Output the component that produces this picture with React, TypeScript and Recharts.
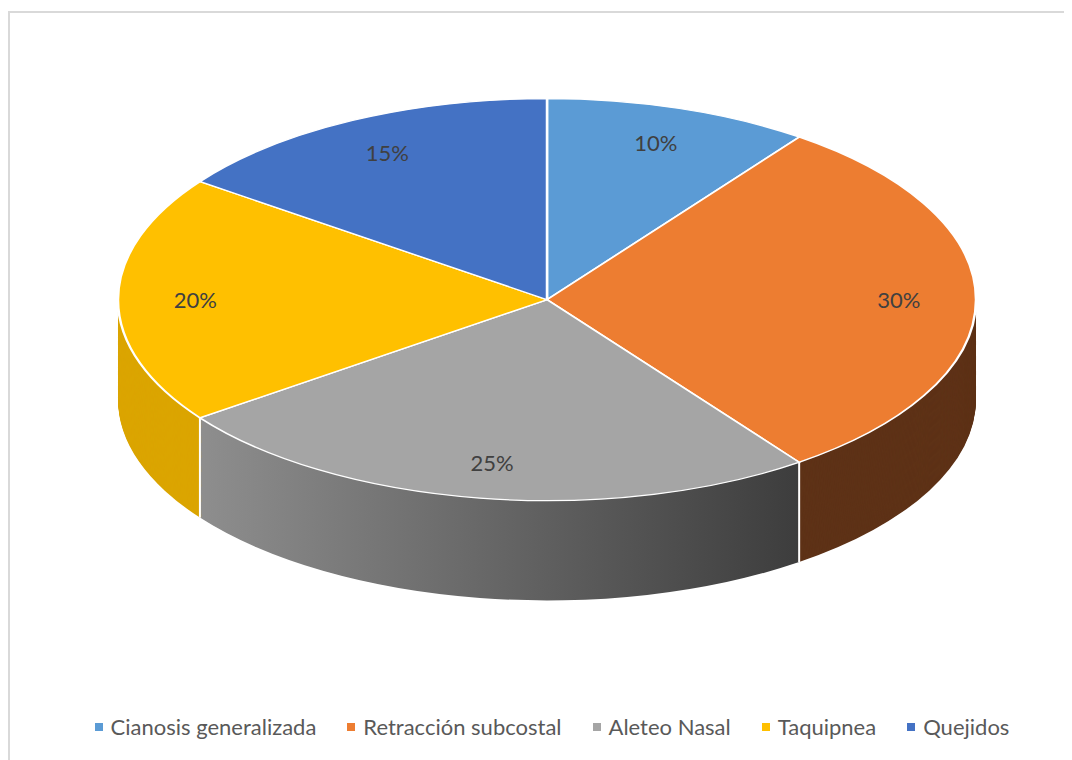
import { PieChart, Pie, Cell } from "recharts";

const categories = [
  "Cianosis generalizada",
  "Retracción subcostal",
  "Aleteo Nasal",
  "Taquipnea",
  "Quejidos",
];
const values = [10, 30, 25, 20, 15];
const topColors = ["#5B9BD5", "#ED7D31", "#A5A5A5", "#FFC000", "#4472C4"];
const sideColors = ["#3B6A96", "#5E3217", "url(#sideGray)", "#DBA500", "#2F5597"];

const data = categories.map((name, i) => ({ name, value: values[i] }));

// 3D look: circle squashed vertically, plus stacked layers for the side wall
const SCALE_Y = 0.4685;
const RADIUS = 429;
const CX = 539;
const CY = 439;
const DEPTH = 213;
const RAD = Math.PI / 180;

const layers: number[] = [];
for (let d = DEPTH; d > 0; d -= 2) layers.push(d);

function renderLabel(props: any) {
  const { cx, cy, midAngle, startAngle, outerRadius, percent, index } = props;
  const r = outerRadius * 0.82;
  const x = cx + r * Math.cos(-midAngle * RAD);
  const y = cy + r * Math.sin(-midAngle * RAD);
  const bx = cx + outerRadius * Math.cos(-startAngle * RAD);
  const by = cy + outerRadius * Math.sin(-startAngle * RAD);
  return (
    <g key={"lbl-" + index}>
      {by > cy + 1 && (
        <line
          x1={bx}
          y1={by}
          x2={bx}
          y2={by + DEPTH}
          stroke="#ffffff"
          strokeWidth={2}
          vectorEffect="non-scaling-stroke"
        />
      )}
      <text
        transform={`translate(${x},${y}) scale(1,${1 / SCALE_Y})`}
        textAnchor="middle"
        dominantBaseline="central"
        fill="#404040"
        fontSize={22}
        fontFamily="Lato, 'Noto Sans', sans-serif"
      >
        {Math.round(percent * 100) + "%"}
      </text>
    </g>
  );
}

export default function App() {
  return (
    <div
      style={{
        position: "relative",
        width: 1064,
        height: 752,
        overflow: "hidden",
        background: "white",
        fontFamily: "Lato, 'Noto Sans', sans-serif",
      }}
    >
      <style>{".top-pie path { vector-effect: non-scaling-stroke; }"}</style>
      <div
        style={{
          position: "absolute",
          left: 0,
          top: 3,
          width: 1064,
          height: 760,
          borderTop: "2px solid #d9d9d9",
          borderLeft: "2px solid #d9d9d9",
          boxSizing: "border-box",
        }}
      />
      <div
        style={{
          position: "absolute",
          left: 0,
          top: 86,
          transform: `scaleY(${SCALE_Y})`,
          transformOrigin: "0 0",
        }}
      >
        <PieChart width={1064} height={1091} margin={{ top: 0, right: 0, bottom: 0, left: 0 }}>
          <defs>
            <linearGradient id="sideGray" x1="0" y1="0" x2="1" y2="0">
              <stop offset="0%" stopColor="#8E8E8E" />
              <stop offset="100%" stopColor="#3D3D3D" />
            </linearGradient>
          </defs>
          {layers.map((d) => (
            <Pie
              key={"layer-" + d}
              data={data}
              dataKey="value"
              cx={CX}
              cy={CY + d}
              outerRadius={RADIUS}
              startAngle={90}
              endAngle={-270}
              stroke="none"
              isAnimationActive={false}
            >
              {data.map((_, i) => (
                <Cell key={i} fill={sideColors[i]} stroke="none" />
              ))}
            </Pie>
          ))}
          <Pie
            className="top-pie"
            data={data}
            dataKey="value"
            cx={CX}
            cy={CY}
            outerRadius={RADIUS}
            startAngle={90}
            endAngle={-270}
            stroke="#ffffff"
            strokeWidth={2.5}
            label={renderLabel}
            labelLine={false}
            isAnimationActive={false}
          >
            {data.map((_, i) => (
              <Cell key={i} fill={topColors[i]} />
            ))}
          </Pie>
        </PieChart>
      </div>
      <div
        style={{
          position: "absolute",
          left: 0,
          top: 705,
          width: 1088,
          display: "flex",
          justifyContent: "center",
          alignItems: "center",
          gap: 31,
          fontSize: 22,
          color: "#595959",
        }}
      >
        {categories.map((c, i) => (
          <div key={c} style={{ display: "flex", alignItems: "center" }}>
            <span
              style={{
                display: "inline-block",
                width: 8,
                height: 8,
                background: topColors[i],
                marginRight: 8,
              }}
            />
            <span>{c}</span>
          </div>
        ))}
      </div>
    </div>
  );
}
